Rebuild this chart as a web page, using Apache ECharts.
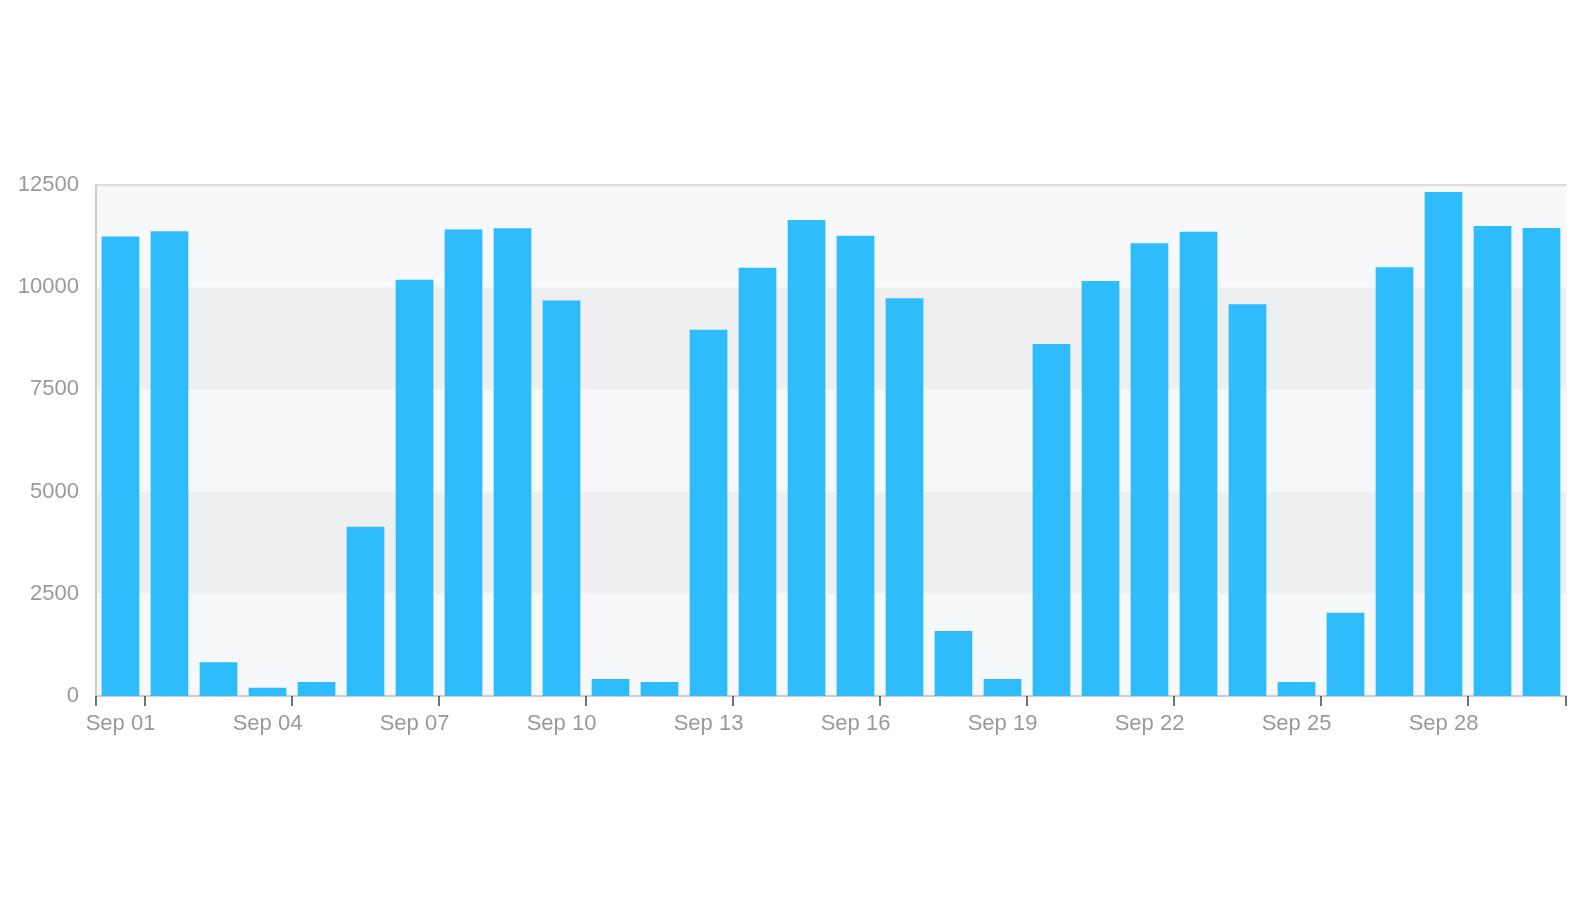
<!DOCTYPE html>
<html>
<head>
<meta charset="utf-8">
<script src="https://cdn.jsdelivr.net/npm/echarts@6/dist/echarts.min.js"></script>
<style>
html,body{margin:0;padding:0;background:#fff;}
#chart{width:1581px;height:900px;}
</style>
</head>
<body>
<div id="chart"></div>
<script>
const categories = ['Sep 01','Sep 02','Sep 03','Sep 04','Sep 05','Sep 06','Sep 07','Sep 08','Sep 09','Sep 10',
  'Sep 11','Sep 12','Sep 13','Sep 14','Sep 15','Sep 16','Sep 17','Sep 18','Sep 19','Sep 20',
  'Sep 21','Sep 22','Sep 23','Sep 24','Sep 25','Sep 26','Sep 27','Sep 28','Sep 29','Sep 30'];
const values = [11240, 11370, 824, 203, 342, 4141, 10181, 11411, 11443, 9675,
  416, 342, 8960, 10477, 11644, 11260, 9728, 1590, 416, 8611,
  10152, 11074, 11358, 9582, 342, 2038, 10487, 12329, 11497, 11448];
const yTicks = [0, 2500, 5000, 7500, 10000, 12500];

const chart = echarts.init(document.getElementById('chart'), null, {renderer: 'canvas'});
const font = "'Liberation Sans', Arial, sans-serif";
chart.setOption({
  animation: false,
  backgroundColor: '#ffffff',
  grid: {left: 96, right: 15, top: 185, bottom: 204},
  xAxis: [{
    type: 'category',
    data: categories,
    boundaryGap: true,
    axisLine: {show: true, lineStyle: {color: '#cccccc', width: 2}},
    axisTick: {show: true, length: 10, lineStyle: {color: '#444444', width: 1.5},
      interval: function (i) { return i === 0 || i % 3 === 1; }},
    axisLabel: {interval: 2, color: '#9a9a9a', fontSize: 22, fontFamily: font, margin: 17},
    splitLine: {show: false}
  }, {
    type: 'category',
    data: categories,
    position: 'top',
    axisLine: {show: true, lineStyle: {color: '#dddddd', width: 2}},
    axisTick: {show: false},
    axisLabel: {show: false}
  }],
  yAxis: {
    type: 'value',
    min: yTicks[0],
    max: yTicks[yTicks.length - 1],
    interval: yTicks[1] - yTicks[0],
    axisLine: {show: true, lineStyle: {color: '#cccccc', width: 2}},
    axisTick: {show: false},
    axisLabel: {color: '#9a9a9a', fontSize: 22, fontFamily: font, margin: 17,
      formatter: function (v) { return String(v); }},
    splitLine: {show: false},
    splitArea: {show: true, areaStyle: {color: ['#f7f8fa', '#eeeff1']}}
  },
  series: [{
    type: 'bar',
    data: values,
    barWidth: '77%',
    itemStyle: {color: '#2ebcfd'}
  }]
});
</script>
</body>
</html>
